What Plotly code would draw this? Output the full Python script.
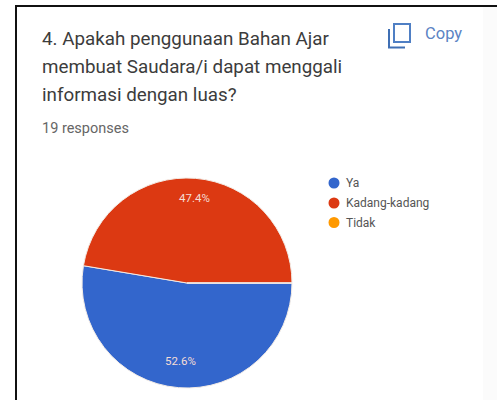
import plotly.graph_objects as go

W, H = 497, 400
categories = ["Ya", "Kadang-kadang", "Tidak"]
counts = [10, 9, 0]
colors = ["#3366cc", "#dc3912", "#ff9900"]
title_lines = ["4. Apakah penggunaan Bahan Ajar", "membuat Saudara/i dapat menggali", "informasi dengan luas?"]
subtitle = "19 responses"
copy_label = "Copy"

def px(x): return x / W
def py(y): return 1 - y / H

cx, cy, r = 187, 283, 105
fig = go.Figure()
fig.add_trace(go.Pie(
    labels=categories, values=counts, sort=False, direction="clockwise", rotation=90,
    marker=dict(colors=colors, line=dict(color="#f3ece6", width=1)),
    textinfo="none", hoverinfo="label+percent", showlegend=False,
    domain=dict(x=[px(cx - r), px(cx + r)], y=[py(cy + r), py(cy - r)]),
))

ann = []
for line_text, y in zip(title_lines, [39, 67, 95]):
    ann.append(dict(text=line_text, x=px(40), y=py(y), xref="paper", yref="paper", xanchor="left", yanchor="middle",
                    showarrow=False, font=dict(family="Roboto", size=18.8, color="#3c3c3c")))
ann.append(dict(text=subtitle, x=px(40), y=py(128), xref="paper", yref="paper", xanchor="left", yanchor="middle",
                showarrow=False, font=dict(family="Roboto", size=14.5, color="#666666")))
ann.append(dict(text=copy_label, x=px(423), y=py(34), xref="paper", yref="paper", xanchor="left", yanchor="middle",
                showarrow=False, font=dict(family="Roboto", size=16.5, color="#5b84c4")))
total = sum(counts)
for v, y, x in [(counts[0], 370, 180), (counts[1], 198, 194)]:
    ann.append(dict(text=f"{v / total * 100:.1f}%", x=px(x), y=py(y), xref="paper", yref="paper", showarrow=False,
                    font=dict(family="Roboto", size=11.5, color="#f5ddd5")))
legend_y = [183, 203, 222.5]
shapes = [dict(type="rect", xref="paper", yref="paper", x0=px(483), x1=1, y0=0, y1=py(7),
               fillcolor="#fbfbfb", line=dict(width=0), layer="below")]
for c, col, y in zip(categories, colors, legend_y):
    ann.append(dict(text=c, x=px(344), y=py(y), xref="paper", yref="paper", xanchor="left", yanchor="middle",
                    showarrow=False, font=dict(family="Roboto", size=12, color="#555555")))
    shapes.append(dict(type="circle", xref="paper", yref="paper", x0=px(328.5), x1=px(339.5), y0=py(y + 5.5), y1=py(y - 5.5),
                       fillcolor=col, line=dict(width=0)))

def line(x0, y0, x1, y1, color, w):
    return dict(type="line", xref="paper", yref="paper", x0=px(x0), y0=py(y0), x1=px(x1), y1=py(y1),
                line=dict(color=color, width=w))
shapes += [
    line(16, 6, 16, 400, "#111111", 2),
    line(15, 6, 497, 6, "#111111", 2),
    # copy icon
    dict(type="rect", xref="paper", yref="paper", x0=px(394), x1=px(410), y0=py(42), y1=py(24), line=dict(color="#4f7fc4", width=2), fillcolor="rgba(0,0,0,0)"),
    line(389, 29, 389, 48, "#3f6fb4", 2),
    line(388, 47.5, 405, 47.5, "#3f6fb4", 2),
]
fig.update_layout(width=W, height=H, margin=dict(l=0, r=0, t=0, b=0), paper_bgcolor="white",
                  annotations=ann, shapes=shapes, showlegend=False)
fig.write_html("out.html", config=dict(displayModeBar=False),
               post_script="document.body.style.margin='0';document.body.style.overflow='hidden';")
